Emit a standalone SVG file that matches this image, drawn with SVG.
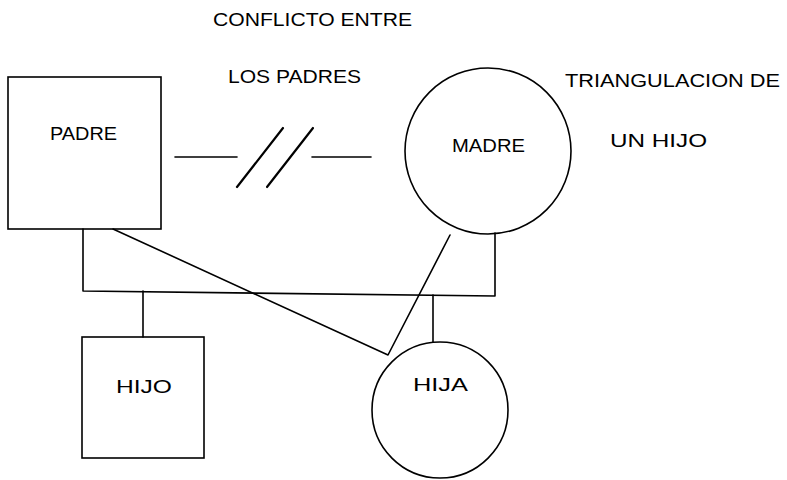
<svg xmlns="http://www.w3.org/2000/svg" width="787" height="480" viewBox="0 0 787 480">
<style>
.shape{fill:none;stroke:#000;stroke-width:1.6}
.conn{fill:none;stroke:#000;stroke-width:1.6;stroke-linecap:round;stroke-linejoin:round}
.slash{fill:none;stroke:#000;stroke-width:2.2;stroke-linecap:round}
text{font-family:"Liberation Sans",Arial,sans-serif;font-size:19px;fill:#000}
.mono{font-family:"Liberation Sans",Arial,sans-serif;font-size:18px}
</style>
<rect width="787" height="480" fill="#fff"/>
<g id="labels">
<text x="213" y="26" textLength="199" lengthAdjust="spacingAndGlyphs">CONFLICTO ENTRE</text>
<text x="228" y="83" textLength="133" lengthAdjust="spacingAndGlyphs">LOS PADRES</text>
<text x="565" y="87" textLength="215" lengthAdjust="spacingAndGlyphs">TRIANGULACION DE</text>
<text x="610" y="147" textLength="97" lengthAdjust="spacingAndGlyphs">UN HIJO</text>
</g>
<g id="connectors">
<line class="conn" x1="175" y1="157" x2="237" y2="157"/>
<line class="slash" x1="237" y1="187" x2="283" y2="128"/>
<line class="slash" x1="267" y1="187" x2="313" y2="128"/>
<line class="conn" x1="312" y1="157" x2="371" y2="157"/>
<polyline class="conn" points="83,229 83,291 495,296 495,233"/>
<line class="conn" x1="143" y1="291" x2="143" y2="337"/>
<line class="conn" x1="433" y1="295" x2="433" y2="342"/>
<polyline class="conn" points="113,229 388,355 450,235"/>
</g>
<g id="padre">
<rect class="shape" x="8" y="77" width="153" height="152"/>
<text x="50" y="140" textLength="67" lengthAdjust="spacingAndGlyphs">PADRE</text>
</g>
<g id="madre">
<circle class="shape" cx="488" cy="151" r="83"/>
<text x="452" y="152" textLength="73" lengthAdjust="spacingAndGlyphs">MADRE</text>
</g>
<g id="hijo">
<rect class="shape" x="82" y="337" width="122" height="121"/>
<text class="mono" x="116" y="393" textLength="56" lengthAdjust="spacingAndGlyphs">HIJO</text>
</g>
<g id="hija">
<circle class="shape" cx="440" cy="410" r="68"/>
<text class="mono" x="413" y="391" textLength="55" lengthAdjust="spacingAndGlyphs">HIJA</text>
</g>
</svg>
